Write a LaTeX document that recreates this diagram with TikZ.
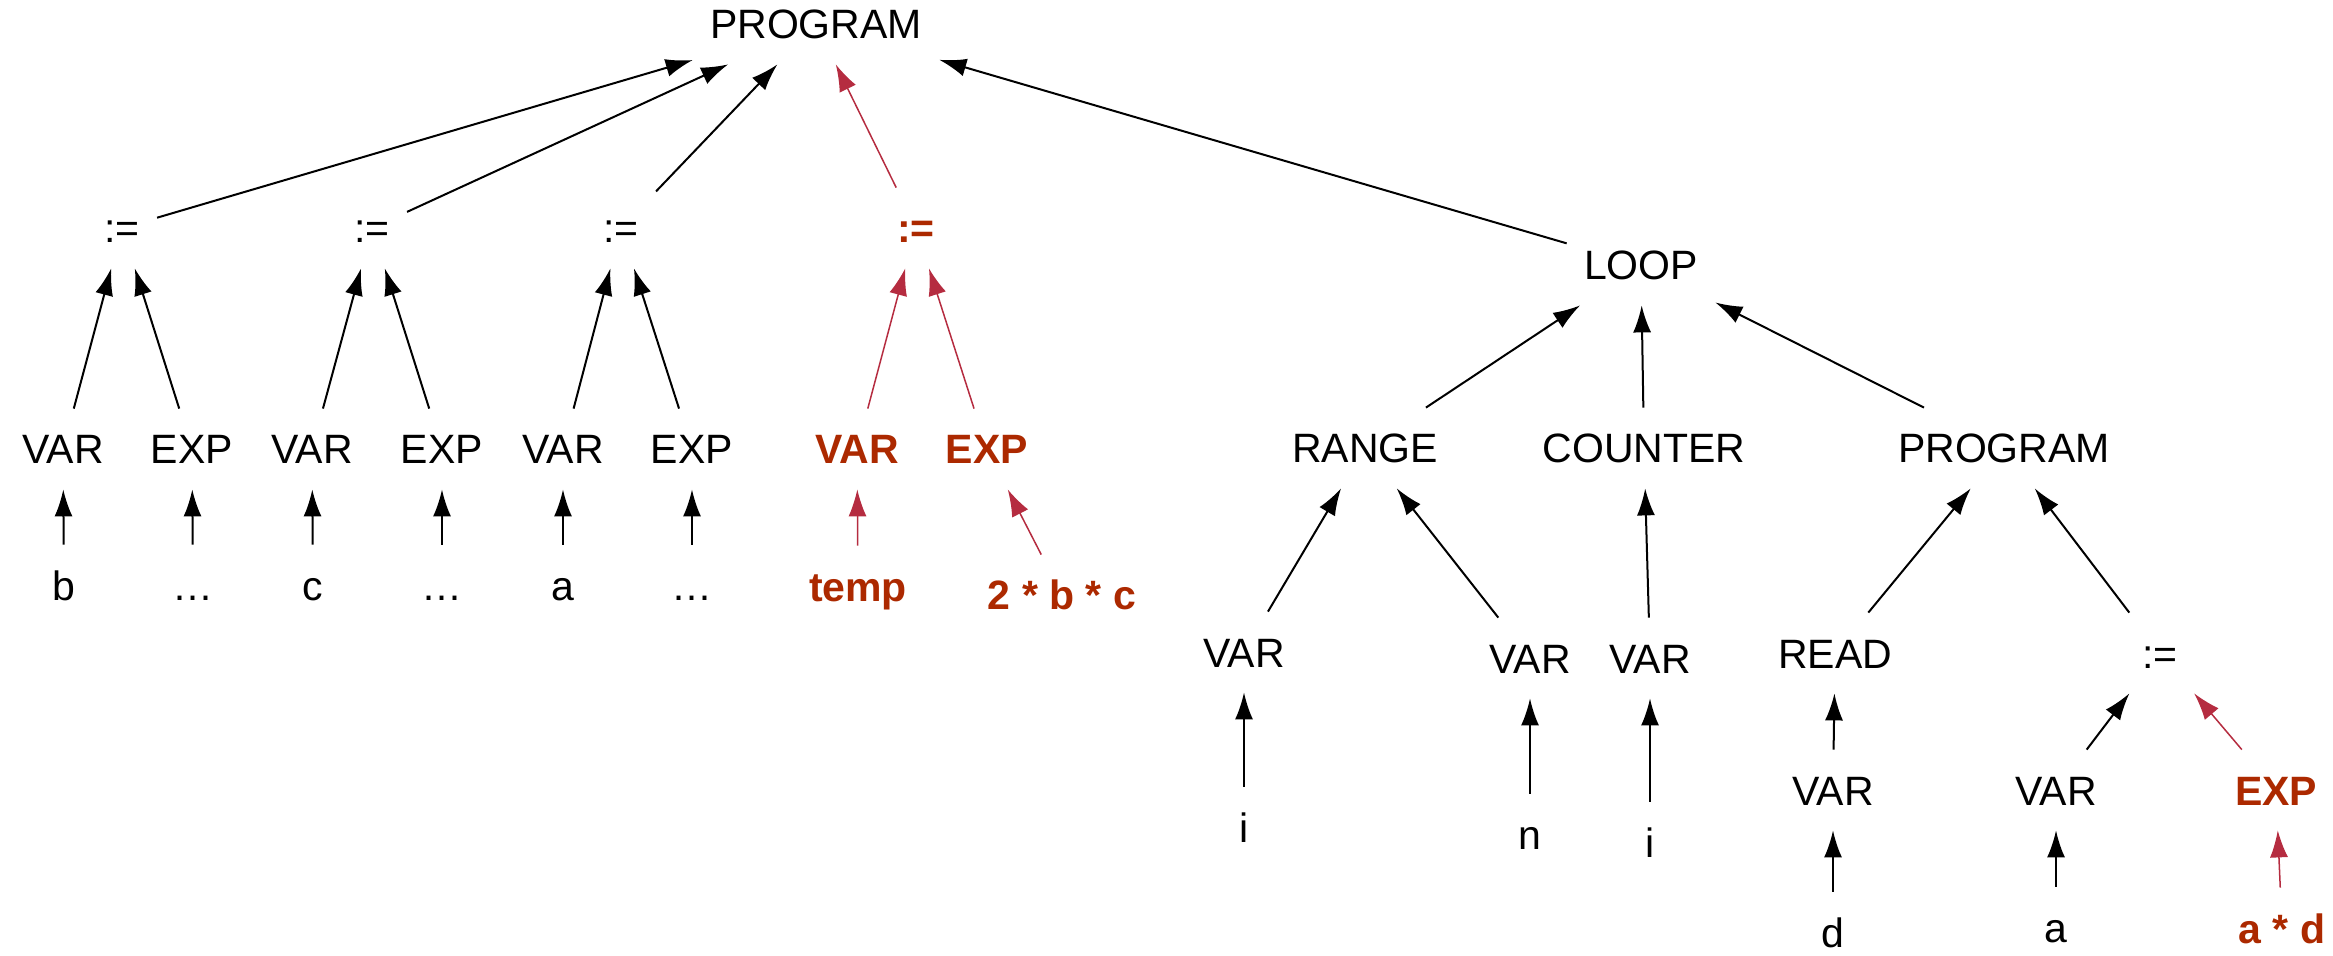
\documentclass[tikz,border=0pt]{standalone}
\usepackage{fontspec}
\setmainfont{Liberation Sans}
\usetikzlibrary{arrows.meta}
\definecolor{hotred}{RGB}{172,41,0}
\definecolor{hotline}{RGB}{181,44,64}
\begin{document}
\begin{tikzpicture}[
x=0.5pt, y=-0.5pt,
word/.style={rectangle, inner xsep=8.5pt, inner ysep=0pt, minimum height=40pt, text height=15pt, text depth=0pt, font=\fontsize{20.5}{24}\selectfont},
hotword/.style={word, text=hotred, font=\fontsize{20.5}{24}\selectfont\bfseries},
edgeup/.style={-{Latex[length=13.5pt, width=9pt]}, line width=1pt},
hotedge/.style={edgeup, draw=hotline, line width=0.75pt},
]
\useasboundingbox (0,0) rectangle (2333,956);

% root and first level
\node[word] (P) at (816,24) {PROGRAM};
\node[word] (A1) at (122,228) {:=};
\node[word] (A2) at (372,228) {:=};
\node[word] (A3) at (621,228) {:=};
\node[hotword] (A4) at (916,228) {:=};
\node[word] (L) at (1641,265) {LOOP};

% assignments
\node[word] (V1) at (63,449) {VAR};
\node[word] (E1) at (192,449) {EXP};
\node[word] (V2) at (312,449) {VAR};
\node[word] (E2) at (442,449) {EXP};
\node[word] (V3) at (563,449) {VAR};
\node[word] (E3) at (692,449) {EXP};
\node[hotword] (V4) at (857,449) {VAR};
\node[hotword] (E4) at (987,449) {EXP};
\node[word] (b) at (64,585) {b};
\node[word] (dots1) at (193,585) {…};
\node[word] (c) at (313,585) {c};
\node[word] (dots2) at (442,585) {…};
\node[word] (a) at (563,585) {a};
\node[word] (dots3) at (692,585) {…};
\node[hotword] (temp) at (858,586) {temp};
\node[hotword] (bc) at (1062,595) {2 * b * c};

% loop
\node[word] (R) at (1365,448) {RANGE};
\node[word] (C) at (1644,448) {COUNTER};
\node[word] (P2) at (2004,448) {PROGRAM};
\node[word] (RV1) at (1244,652) {VAR};
\node[word] (RV2) at (1530,658) {VAR};
\node[word] (CV) at (1650,658) {VAR};
\node[word] (Rd) at (1835,653) {READ};
\node[word] (A5) at (2160,653) {:=};
\node[word] (i1) at (1244,827) {i};
\node[word] (n) at (1530,834) {n};
\node[word] (i2) at (1650,842) {i};
\node[word] (RdV) at (1833,790) {VAR};
\node[word] (A5V) at (2056,790) {VAR};
\node[hotword] (A5E) at (2276,790) {EXP};
\node[word] (d) at (1833,932) {d};
\node[word] (a2) at (2056,927) {a};
\node[hotword] (ad) at (2282,928) {a * d};

\foreach \s/\t in {A1/P, A2/P, A3/P, L/P, V1/A1, E1/A1, V2/A2, E2/A2, V3/A3, E3/A3,
  b/V1, dots1/E1, c/V2, dots2/E2, a/V3, dots3/E3, R/L, C/L, P2/L, RV1/R, RV2/R, CV/C,
  Rd/P2, A5/P2, i1/RV1, n/RV2, i2/CV, RdV/Rd, A5V/A5, d/RdV, a2/A5V}
  \draw[edgeup] (\s) -- (\t);
\foreach \s/\t in {A4/P, V4/A4, E4/A4, temp/V4, bc/E4, A5E/A5, ad/A5E}
  \draw[hotedge] (\s) -- (\t);
\end{tikzpicture}
\end{document}
